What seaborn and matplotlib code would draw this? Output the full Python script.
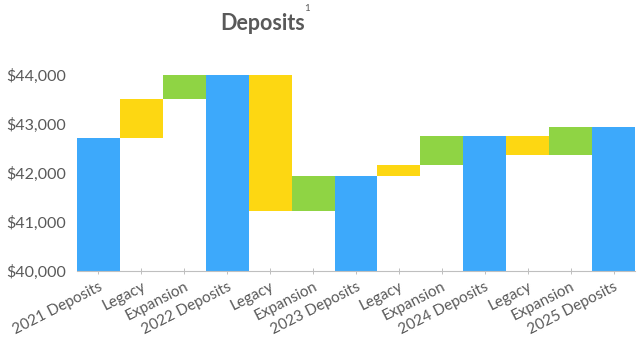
import numpy as np
import pandas as pd
import matplotlib
matplotlib.use("Agg")
import matplotlib.pyplot as plt
import seaborn as sns
from matplotlib.ticker import FuncFormatter

# Year-end deposit totals and the two drivers of change between them
years = ["2021", "2022", "2023", "2024", "2025"]
deposit_totals = [42720, 44000, 41940, 42750, 42940]
legacy_change = [790, -2770, 230, -390]
expansion_change = [490, 710, 580, 580]
y_ticks = [40000, 41000, 42000, 43000, 44000]

BLUE = "#3DA9FB"
YELLOW = "#FDD712"
GREEN = "#8FD444"
TEXT = "#595959"

# Build the waterfall sequence: total, legacy, expansion, total, ...
labels, heights, bottoms, colors = [], [], [], []
for i, year in enumerate(years):
    labels.append(f"{year} Deposits")
    heights.append(deposit_totals[i])
    bottoms.append(0)
    colors.append(BLUE)
    if i < len(legacy_change):
        level = deposit_totals[i]
        for name, delta, col in (("Legacy", legacy_change[i], YELLOW),
                                 ("Expansion", expansion_change[i], GREEN)):
            new_level = level + delta
            labels.append(name)
            heights.append(abs(delta))
            bottoms.append(min(level, new_level))
            colors.append(col)
            level = new_level

df = pd.DataFrame({"step": np.arange(len(labels)), "height": heights})

sns.set_theme(style="white")
plt.rcParams["font.family"] = ["Lato", "DejaVu Sans"]

fig = plt.figure(figsize=(6.38, 3.39), dpi=100)
ax = fig.add_axes([0.1207, 0.2015, 0.8746, 0.5773])

sns.barplot(data=df, x="step", y="height", bottom=np.array(bottoms),
            width=1.0, errorbar=None, color=BLUE, linewidth=0,
            ax=ax)
for patch, col in zip(ax.patches, colors):
    patch.set_facecolor(col)
    patch.set_edgecolor(col)

ax.set_xlim(-0.5, len(labels) - 0.5)
ax.set_ylim(40000, 44000)
ax.set_yticks(y_ticks)
ax.yaxis.set_major_formatter(FuncFormatter(lambda v, _: f"${v:,.0f}"))
ax.set_xticks(np.arange(len(labels)))
ax.set_xticklabels(labels, rotation=27, ha="right", rotation_mode="anchor")
ax.set_xlabel("")
ax.set_ylabel("")

for side in ("top", "right", "left"):
    ax.spines[side].set_visible(False)
ax.spines["bottom"].set_color("#BFBFBF")
ax.spines["bottom"].set_linewidth(0.8)
ax.spines["bottom"].set_zorder(3)

ax.tick_params(axis="y", length=0, pad=8, labelsize=11.5, labelcolor=TEXT)
ax.tick_params(axis="x", bottom=True, direction="inout", length=5,
               width=0.7, color="#BFBFBF", pad=4, labelsize=11,
               labelcolor=TEXT)

fig.text(0.412, 0.93, "Deposits", ha="center", va="center",
         fontsize=15.5, fontweight="bold", color=TEXT)
fig.text(0.481, 0.975, "1", ha="center", va="center",
         fontsize=7, color=TEXT)

fig.savefig("out.png", dpi=100, facecolor="white")
